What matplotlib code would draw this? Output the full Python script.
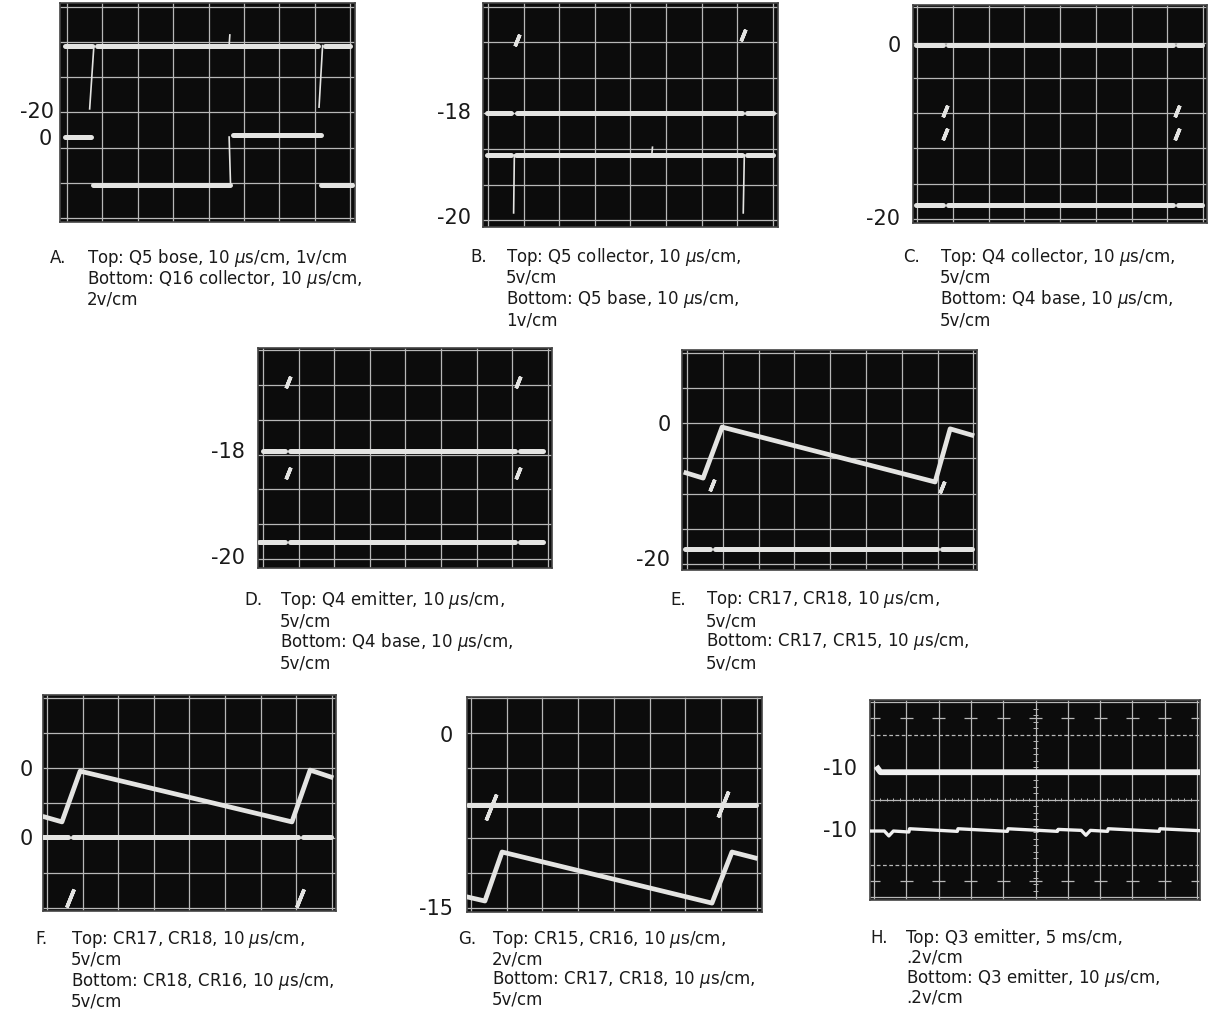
import numpy as np
import matplotlib
matplotlib.use('Agg')
import matplotlib.pyplot as plt

W, H = 1228, 1010

# ---- trace data (in screen divisions, x from left grid line, y from bottom grid line)
# A
a_top_level = 4.9
a_top_segs = [(-0.06, 0.70), (0.84, 7.10), (7.29, 8.0)]
a_bot_levels = [2.3, 0.94, 2.36, 0.94]
a_bot_segs = [(-0.06, 0.68), (0.73, 4.60), (4.70, 7.18), (7.17, 8.05)]
a_spike_x = [(0.76, 0.64), (7.22, 7.12), (4.62, 4.58), (4.58, 4.60)]
a_spike_y = [(4.9, 3.1), (4.9, 3.15), (0.94, 2.30), (4.9, 5.2)]

# B
b_top_level = 3.01
b_top_segs = [(-0.04, 0.66), (0.82, 7.13), (7.27, 8.01)]
b_bot_level = 1.83
b_bot_segs = [(-0.04, 0.66), (0.80, 7.13), (7.27, 8.01)]
b_spike_x = [(0.74, 0.72), (7.20, 7.17), (4.60, 4.62)]
b_spike_y = [(1.83, 0.2), (1.83, 0.2), (1.83, 2.05)]
b_marks_x = [0.81, 7.16]
b_marks_y = [5.07, 5.2]

# C
c_top_level = 4.93
c_top_segs = [(-0.03, 0.73), (0.87, 7.15), (7.29, 7.98)]
c_bot_level = 0.40
c_bot_segs = [(-0.03, 0.73), (0.87, 7.15), (7.29, 7.98)]
c_marks_x = [0.78, 0.78, 7.28, 7.28]
c_marks_y = [3.06, 2.40, 3.06, 2.40]

# D
d_top_level = 3.10
d_top_segs = [(0.0, 0.62), (0.76, 7.08), (7.22, 7.87)]
d_bot_level = 0.49
d_bot_segs = [(-0.12, 0.62), (0.76, 7.08), (7.22, 7.87)]
d_marks_x = [0.70, 7.17, 0.69, 7.17]
d_marks_y = [5.09, 5.09, 2.47, 2.47]

# E
e_top_x = [-0.03, 0.45, 0.98, 6.93, 7.35, 7.96]
e_top_y = [2.59, 2.44, 3.89, 2.33, 3.84, 3.66]
e_bot_level = 0.43
e_bot_segs = [(-0.06, 0.64), (0.78, 6.98), (7.12, 7.95)]
e_marks_x = [0.70, 7.12]
e_marks_y = [2.25, 2.18]

# F
f_top_x = [-0.06, 0.42, 0.93, 6.88, 7.39, 7.98]
f_top_y = [2.60, 2.46, 3.91, 2.46, 3.94, 3.74]
f_bot_level = 2.03
f_bot_segs = [(-0.1, 0.60), (0.73, 7.05), (7.20, 7.98)]
f_marks_x = [0.65, 7.10]
f_marks_y = [0.29, 0.29]

# G
g_top_level = 2.94
g_top_segs = [(-0.08, 7.98)]
g_marks_x = [0.55, 7.05]
g_marks_y = [2.90, 2.96]
g_bot_x = [-0.08, 0.39, 0.87, 6.75, 7.31, 7.96]
g_bot_y = [0.31, 0.20, 1.60, 0.14, 1.60, 1.43]

# H
h_top_x = [0.12, 0.2, 10.1]
h_top_y = [3.95, 3.84, 3.84]
h_bot_x = [-0.1, 0.32, 0.46, 0.60, 1.08, 1.10, 2.58, 2.60, 4.13, 4.15, 5.68, 5.70,
           6.42, 6.56, 6.70, 7.23, 7.25, 8.83, 8.85, 10.1]
h_bot_y = [2.03, 2.03, 1.88, 2.03, 2.00, 2.10, 2.02, 2.10, 2.02, 2.10, 2.02, 2.08,
           2.05, 1.90, 2.05, 2.02, 2.10, 2.02, 2.10, 2.04]

# ---- side labels and captions
side_labels = {
    'A': [('-20', 54, 112), ('0', 52, 139)],
    'B': [('-18', 471, 113), ('-20', 471, 218)],
    'C': [('0', 901, 46), ('-20', 900, 219)],
    'D': [('-18', 245, 452), ('-20', 245, 558)],
    'E': [('0', 671, 425), ('-20', 670, 560)],
    'F': [('0', 33, 770), ('0', 33, 839)],
    'G': [('0', 453, 736), ('-15', 453, 909)],
    'H': [('-10', 857, 769), ('-10', 857, 831)],
}
mu = r'$\mu$'
captions = {
    'A': ['Top: Q5 bose, 10 ' + mu + 's/cm, 1v/cm', 'Bottom: Q16 collector, 10 ' + mu + 's/cm,', '2v/cm'],
    'B': ['Top: Q5 collector, 10 ' + mu + 's/cm,', '5v/cm', 'Bottom: Q5 base, 10 ' + mu + 's/cm,', '1v/cm'],
    'C': ['Top: Q4 collector, 10 ' + mu + 's/cm,', '5v/cm', 'Bottom: Q4 base, 10 ' + mu + 's/cm,', '5v/cm'],
    'D': ['Top: Q4 emitter, 10 ' + mu + 's/cm,', '5v/cm', 'Bottom: Q4 base, 10 ' + mu + 's/cm,', '5v/cm'],
    'E': ['Top: CR17, CR18, 10 ' + mu + 's/cm,', '5v/cm', 'Bottom: CR17, CR15, 10 ' + mu + 's/cm,', '5v/cm'],
    'F': ['Top: CR17, CR18, 10 ' + mu + 's/cm,', '5v/cm', 'Bottom: CR18, CR16, 10 ' + mu + 's/cm,', '5v/cm'],
    'G': ['Top: CR15, CR16, 10 ' + mu + 's/cm,', '2v/cm', 'Bottom: CR17, CR18, 10 ' + mu + 's/cm,', '5v/cm'],
    'H': ['Top: Q3 emitter, 5 ms/cm,', '.2v/cm', 'Bottom: Q3 emitter, 10 ' + mu + 's/cm,', '.2v/cm'],
}
# letter x, text x, first line y, line step
cap_pos = {
    'A': (50, 87, 258, 21), 'B': (470, 506, 257, 21), 'C': (903, 940, 257, 21),
    'D': (244, 280, 600, 21), 'E': (670, 706, 600, 21), 'F': (35, 71, 939, 21),
    'G': (458, 492, 939, 20), 'H': (870, 906, 938, 20),
}

# screen rect (px) and grid (left line x, x pitch, bottom line y, y pitch)
rects = {
    'A': ((60, 3, 355, 222), (67, 35.4, 218, 35.2), 8),
    'B': ((483, 3, 778, 227), (488, 35.6, 220, 35.5), 8),
    'C': ((913, 5, 1207, 223), (917, 35.75, 219, 35.3), 8),
    'D': ((258, 348, 552, 568), (263, 35.6, 559, 34.8), 8),
    'E': ((682, 350, 977, 570), (687, 35.8, 564, 35.2), 8),
    'F': ((43, 695, 336, 911), (47, 35.6, 908, 35.0), 8),
    'G': ((467, 697, 762, 912), (471, 35.7, 908, 35.0), 8),
    'H': ((870, 700, 1200, 900), (874, 32.3, 897, 32.5), 10),
}

trace_c = '#e4e4e2'
grid_c = '#b8b8b8'
ink = '#1a1a1a'

plt.rcParams['font.family'] = ['DejaVu Sans']
plt.rcParams['mathtext.fontset'] = 'dejavusans'

fig = plt.figure(figsize=(W / 100, H / 100), dpi=100)
fig.patch.set_facecolor('white')

axes = {}
for key, (rect, grid, ncol) in rects.items():
    x0, y0, x1, y1 = rect
    gx0, pxw, gy0, pyh = grid
    ax = fig.add_axes([x0 / W, 1 - y1 / H, (x1 - x0) / W, (y1 - y0) / H])
    ax.set_facecolor('#0c0c0c')
    ax.set_xlim((x0 - gx0) / pxw, (x1 - gx0) / pxw)
    ax.set_ylim((gy0 - y1) / pyh, (gy0 - y0) / pyh)
    ax.set_xticks([])
    ax.set_yticks([])
    for s in ax.spines.values():
        s.set_color('#444444')
        s.set_linewidth(1.2)
    for v in range(ncol + 1):
        ax.axvline(v, color=grid_c, lw=0.9, zorder=1)
    if key == 'H':
        for h in [0, 3, 6]:
            ax.axhline(h, color=grid_c, lw=0.9, zorder=1)
        for h in [1, 5]:
            ax.axhline(h, color=grid_c, lw=0.9, ls=(0, (3, 2)), zorder=1)
        minor = np.arange(0, 6.01, 0.2)
        ax.hlines(minor, 4.92, 5.08, color=grid_c, lw=0.7, zorder=1)
        minor_x = np.arange(0, 10.01, 0.2)
        ax.vlines(minor_x, 2.94, 3.06, color=grid_c, lw=0.7, zorder=1)
        ax.hlines([0.5] * 11, np.arange(11) - 0.2, np.arange(11) + 0.2, color=grid_c, lw=0.9, zorder=1)
        ax.hlines([5.5] * 11, np.arange(11) - 0.2, np.arange(11) + 0.2, color=grid_c, lw=0.9, zorder=1)
    else:
        for h in range(7):
            ax.axhline(h, color=grid_c, lw=0.9, zorder=1)
    axes[key] = ax

thick = 3.6
mid = 3.4


def segs(ax, level, pairs, lw=thick):
    for xs, xe in pairs:
        ax.plot([xs, xe], [level, level], color=trace_c, lw=lw, solid_capstyle='round', zorder=3)


def spikes(ax, xs, ys, lw=1.2):
    for xx, yy in zip(xs, ys):
        ax.plot(xx, yy, color=trace_c, lw=lw, zorder=3)


def marks(ax, xs, ys, ms=9):
    ax.plot(xs, ys, ls='none', marker=(2, 2, -22), ms=ms, mew=2.6, mec=trace_c, zorder=3)


ax = axes['A']
segs(ax, a_top_level, a_top_segs)
for lev, pr in zip(a_bot_levels, a_bot_segs):
    segs(ax, lev, [pr])
spikes(ax, a_spike_x, a_spike_y)

ax = axes['B']
segs(ax, b_top_level, b_top_segs)
segs(ax, b_bot_level, b_bot_segs)
spikes(ax, b_spike_x, b_spike_y)
marks(ax, b_marks_x, b_marks_y)

ax = axes['C']
segs(ax, c_top_level, c_top_segs)
segs(ax, c_bot_level, c_bot_segs)
marks(ax, c_marks_x, c_marks_y)

ax = axes['D']
segs(ax, d_top_level, d_top_segs)
segs(ax, d_bot_level, d_bot_segs)
marks(ax, d_marks_x, d_marks_y)

ax = axes['E']
ax.plot(e_top_x, e_top_y, color=trace_c, lw=mid, solid_joinstyle='round', zorder=3)
segs(ax, e_bot_level, e_bot_segs)
marks(ax, e_marks_x, e_marks_y)

ax = axes['F']
ax.plot(f_top_x, f_top_y, color=trace_c, lw=mid, solid_joinstyle='round', zorder=3)
segs(ax, f_bot_level, f_bot_segs)
marks(ax, f_marks_x, f_marks_y, ms=14)

ax = axes['G']
segs(ax, g_top_level, g_top_segs)
marks(ax, g_marks_x, g_marks_y, ms=20)
ax.plot(g_bot_x, g_bot_y, color=trace_c, lw=mid, solid_joinstyle='round', zorder=3)

ax = axes['H']
ax.plot(h_top_x, h_top_y, color='#f0f0f0', lw=4.2, zorder=3)
ax.plot(h_bot_x, h_bot_y, color='#f0f0f0', lw=2.4, zorder=3)

for key, labs in side_labels.items():
    for txt, xr, yc in labs:
        fig.text(xr / W, 1 - yc / H, txt, ha='right', va='center', fontsize=15, color=ink)

for key, lines in captions.items():
    xl, xt, y1, step = cap_pos[key]
    fig.text(xl / W, 1 - y1 / H, key + '.', ha='left', va='center', fontsize=12, color=ink)
    for i, ln in enumerate(lines):
        fig.text(xt / W, 1 - (y1 + i * step) / H, ln, ha='left', va='center', fontsize=12, color=ink)

plt.savefig('out.png', dpi=100)
